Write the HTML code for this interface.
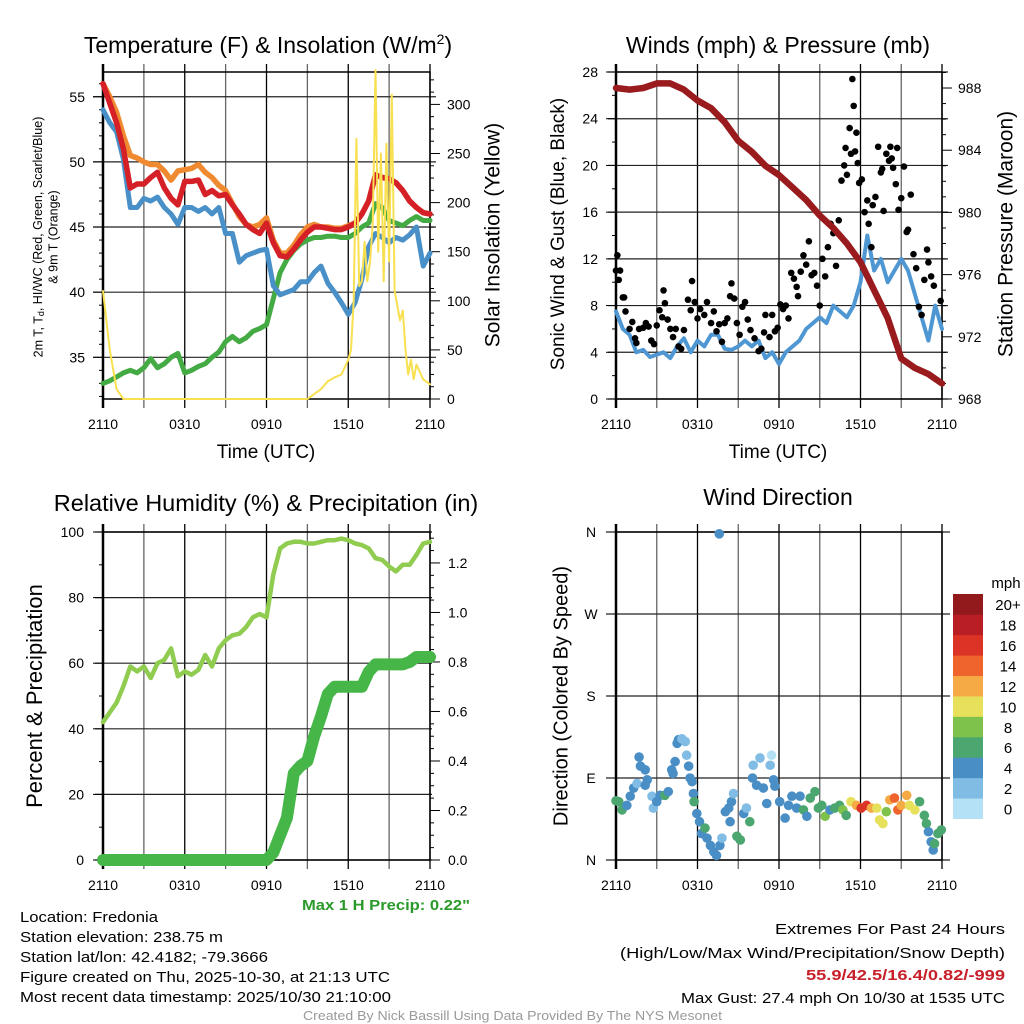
<!DOCTYPE html>
<html><head><meta charset="utf-8"><style>
body{margin:0;background:#fff;}
svg{display:block;font-family:"Liberation Sans",sans-serif;}
</style></head><body>
<svg id="c" width="1024" height="1024" viewBox="0 0 1024 1024">
<rect width="1024" height="1024" fill="#fff"/>
</svg>
<script>
// ---------- data ----------
const hours = [0,0.5,1,1.5,2,2.5,3,3.5,4,4.5,5,5.5,6,6.5,7,7.5,8,8.5,9,9.5,10,10.5,11,11.5,12,12.5,13,13.5,14,14.5,15,15.5,16,16.5,17,17.5,18,18.5,19,19.5,20,20.5,21,21.5,22,22.5,23,23.5,24];
const tempRed = [56,54.5,53,51,48,48.3,48.3,48.8,49.2,48,47.2,46.7,48.5,48.5,48.6,47.5,47.8,47.4,47.5,46.7,46,45.2,44.8,44.5,45.3,43.8,42.8,42.7,43.3,44,44.6,45,45,44.9,44.8,44.8,45,45.3,46,47,49,48.8,48.7,48.4,47.8,47,46.5,46.1,46];
const temp9m = [56,55,53.8,52,50.5,50.3,50,49.8,49.8,49.3,48.6,49.3,49.4,49.5,49.8,49.2,48.8,48.2,47.8,46.8,45.8,45.2,45,45.2,45.7,44,43,43,43.6,44.4,45,45.2,45,45,44.9,44.9,45.1,45.3,46,47,49,48.8,48.7,48.4,47.8,47,46.5,46.1,46];
const tempWC = [54,53,52.3,50.2,46.5,46.5,47.2,47,47.3,46.5,46,45.2,46.5,46.5,46.2,46.5,46,46.5,44.5,44.5,42.3,42.8,43,43.2,43.3,40.5,39.8,40,40.2,40.8,40.8,41.5,42,40.7,40,39.2,38.3,39.2,41,43.5,44.5,44.2,43.8,44.2,44,44.4,45,42,43];
const tempDew = [33,33.2,33.5,33.8,34,33.8,34.2,34.9,34.2,34.5,35,35.3,33.8,34,34.3,34.5,35,35.4,36.2,36.6,36.2,36.5,37,37.2,37.5,39.5,41.5,42.5,43.2,43.7,44,44.2,44.2,44.3,44.3,44.2,44.2,44.5,45,45.3,46.8,46.5,45.5,45.3,45.1,45.5,45.8,45.5,45.5];
const solarHours = [0,0.5,1,1.5,15,15.5,16,16.5,17,17.5,18,18.2,18.4,18.6,18.8,19,19.2,19.4,19.6,19.8,20,20.2,20.4,20.6,20.8,21,21.2,21.4,21.6,21.8,22,22.2,22.4,22.6,22.8,23,23.5,24];
const solarVals = [110,50,10,0,0,5,10,18,22,25,40,50,100,265,115,120,160,120,140,180,335,150,250,120,260,140,310,110,95,80,90,50,25,40,20,35,20,15];
const presHours = [0,1,2,3,4,5,6,7,8,9,10,11,12,13,14,15,16,17,18,19,20,21,22,23,24];
const presVals = [988.0,987.9,988.0,988.3,988.3,987.9,987.2,986.7,985.8,984.6,983.9,983.0,982.4,981.6,980.8,979.8,979.0,978.0,976.8,975.0,973.2,970.6,970.0,969.6,969.0];
const windVals = [7.5,6,5.5,4,4.2,3.6,3.8,4,3.5,4.5,5.2,4,5,4.5,5.5,5.5,4.3,4.2,4.5,5,4.5,5,3.5,4,3,4,4.5,5,6,6.5,7,6.5,8,7.5,7,8,10,14,11,12,10,11,12,11,9,7,5,8,6];
const gustHours = [0,0.1,0.2,0.3,0.5,0.6,0.7,1,1.2,1.4,1.5,1.7,2,2.2,2.4,2.6,2.8,3,3.2,3.4,3.5,3.6,3.8,4,4.2,4.4,4.6,4.8,5,5.3,5.5,5.6,5.8,6,6.2,6.5,6.7,7,7.2,7.4,7.6,7.8,8,8.2,8.4,8.5,8.7,8.9,9.1,9.3,9.5,9.7,9.9,10.2,10.5,10.7,10.9,11,11.3,11.5,11.7,11.9,12.1,12.3,12.5,12.7,12.9,13.1,13.3,13.4,13.6,13.8,14,14.2,14.4,14.6,14.8,15,15.2,15.4,15.6,15.8,16,16.2,16.4,16.6,16.8,16.9,17,17.2,17.3,17.4,17.5,17.6,17.7,17.8,17.9,18.1,18.3,18.5,18.6,18.8,18.9,19.1,19.3,19.5,19.6,19.7,19.9,20.1,20.2,20.3,20.4,20.6,20.7,20.8,21,21.2,21.4,21.5,21.7,21.9,22.1,22.3,22.5,22.7,22.9,23,23.2,23.4,23.9];
const gustVals = [11,12.3,10.2,11,8.7,8.7,7.5,6,6.6,5.2,4.8,6,6.1,6.5,6.2,5,4.7,6.3,7.6,7,9.3,8.2,6.8,6,5.3,6,4.5,4.3,5.9,8.5,7.6,10.1,8.3,6.9,7.7,7.2,8.3,6.5,7.5,5.8,6.4,4.9,6.5,6.9,8.8,9.9,8.6,6.5,5.5,7.9,8.3,6.8,5.9,5.2,4.1,4.3,5.7,7.2,5.3,7.2,5.8,6.1,8.1,7.7,8,6.9,10.8,10.3,9.6,8.8,10.9,12.3,11.5,13.5,10.6,10.8,9.7,8,12,10.5,13,15,14.2,11.4,15.3,18.7,20,21.5,19.2,23.2,21,27.4,25.1,21.2,22.8,20.2,18.5,18.8,16,17,15,13,16.6,17.3,21.6,19.4,19.7,16.1,21,20.4,21.6,20.6,19.8,18.4,21.5,16.2,17.2,19.9,14.3,14.5,17.5,12.4,11.2,7.9,7.2,10.2,12.8,11.7,10.5,9.7,8.4];
const rhVals = [42,45,48,53,59,57.5,59,55.5,60,61,64.5,56,57.5,56.5,58,62.5,59,64.5,67,68.5,69,71,74,75,74,87,95,96.5,97,97,96.5,96.5,97,97.5,97.5,98,97.5,96.5,96,95,92,91.5,89.5,88,90,90,93,96.5,97];
const precipVals = [0,0,0,0,0,0,0,0,0,0,0,0,0,0,0,0,0,0,0,0,0,0,0,0,0,0.03,0.1,0.17,0.35,0.38,0.4,0.5,0.58,0.67,0.7,0.7,0.7,0.7,0.7,0.76,0.79,0.79,0.79,0.79,0.79,0.8,0.82,0.82,0.82];
const dirHours = [0,0.2,0.45,0.8,1.05,1.3,1.55,1.7,1.8,2.15,2.3,2.15,2.65,2.75,3,3.25,3.6,3.85,4.1,4.2,4.35,4.5,4.6,4.85,5.1,5.2,5.35,5.45,5.6,5.7,5.75,5.95,6.15,6.3,6.55,6.7,6.95,7.2,7.4,7.65,7.8,7.6,8.05,8.3,8.4,8.5,8.65,8.9,9.15,9.4,9.6,9.85,10.05,10.1,10.35,10.6,10.85,11.1,11.35,11.45,11.6,11.7,12.05,12.45,12.7,12.95,13.3,13.55,13.8,14.05,14.3,14.65,14.9,15.15,15.4,15.75,16.1,16.45,16.7,16.95,17.3,17.7,18.05,18.45,18.8,19.2,19.4,19.65,19.9,20.15,20.5,20.75,21,21.4,21.6,22,22.35,22.7,22.85,23,23.2,23.35,23.45,23.7,23.95];
const dirDeg = [65,64,55,60,70,79,84,113,103,99,88,82,70,57,64,71,71,75,99,95,108,128,132,133,130,115,103,90,86,73,64,51,42,29,35,24,16,9,5,16,24,358,53,57,42,64,73,26,22,51,57,42,90,104,82,112,79,62,104,115,88,81,64,46,60,70,57,70,55,48,68,75,57,60,48,55,57,60,55,49,64,60,57,60,57,57,44,40,53,66,68,55,60,71,60,55,64,49,40,31,20,11,18,29,33];
const dirSpeed = [6,6,6,4,4,4,2,4,4,4,4,4,2,2,4,4,6,4,4,4,4,4,4,2,2,2,4,4,4,4,6,4,4,4,6,4,4,4,4,4,2,4,4,4,4,4,2,6,6,4,2,6,4,2,4,2,4,4,2,0,4,4,4,4,4,4,4,4,6,4,6,6,6,6,8,4,6,6,8,6,10,12,16,16,12,10,10,10,8,12,14,14,12,12,10,10,6,6,6,4,4,4,6,6,6];
const cbLabels = ["0","2","4","6","8","10","12","14","16","18","20+"];
const cbColors = ["#b5e1f6","#80bce4","#4a8ec6","#4ba66f","#7ec24c","#e7e05b","#f6aa45","#ef632c","#db3427","#b91e25","#921a1c"];
const tickHours = [0,3,6,9,12,15,18,21,24];
const xLabels = ["2110","","0310","","0910","","1510","","2110"];

// ---------- helpers ----------
const NS="http://www.w3.org/2000/svg";
const svg=document.getElementById('c');
function mk(tag,attrs,parent){const e=document.createElementNS(NS,tag);for(const k in attrs)e.setAttribute(k,attrs[k]);(parent||svg).appendChild(e);return e;}
function txt(s,x,y,size,anchor,parent,extra){const t=mk('text',Object.assign({x:x,y:y,'font-size':size,'text-anchor':anchor||'middle',fill:'#000'},extra||{}),parent);t.textContent=s;return t;}
function lin(d0,d1,r0,r1){return v=>r0+(v-d0)*(r1-r0)/(d1-d0);}
function grp(name){const g=mk('g',{});return g;}

function frame(P,name,hLines,ext){
  const g=grp(name+'-grid');
  tickHours.forEach((h,i)=>{
    const x=P.x(h);
    const l=mk('line',{x1:x,x2:x,y1:P.y0-8,y2:P.y1+9,stroke:(i%2==0)?'#000':'#666','stroke-width':1.3},g);
    
    if(xLabels[i]){const t=txt(xLabels[i],x,P.y1+30,14,'middle',g);}
  });
  hLines.forEach(y=>{const l=mk('line',{x1:P.x0-ext[0],x2:P.x1+ext[1],y1:y,y2:y,stroke:'#222','stroke-width':1.2},g);
    });
  mk('rect',{x:P.x0,y:P.y0,width:P.x1-P.x0,height:P.y1-P.y0,fill:'none',stroke:'#000','stroke-width':1.5},g);
  mk('line',{x1:P.x0,x2:P.x0,y1:P.y0-8,y2:P.y1+9,stroke:'#000','stroke-width':2.5},g);
  return g;
}
function poly(xs,ys,X,Y,stroke,w,name){
  let d='';xs.forEach((h,i)=>{d+=(i?'L':'M')+X(h).toFixed(1)+','+Y(ys[i]).toFixed(1);});
  const p=mk('path',{d:d,fill:'none',stroke:stroke,'stroke-width':w,'stroke-linejoin':'round','stroke-linecap':'round'});
  return p;
}
function rot(s,x,y,size,name){const t=txt(s,x,y,size,'middle',svg,{transform:'rotate(-90 '+x+' '+y+')','dominant-baseline':'middle'});return t;}
function title(s,x,y,size,name){const t=txt(s,x,y,size,'middle');return t;}

// ---------- Panel 1: Temperature ----------
{
 const P={x0:103,x1:430,y0:72,y1:399};P.x=lin(0,24,P.x0,P.x1);
 const Y=lin(31.8,56.9,P.y1,P.y0), S=lin(0,333,P.y1,P.y0);
 const tT=[35,40,45,50,55];
 frame(P,'temp-panel',tT.map(Y),[10,6]);
 const g=grp('temp-axes');
 for(let v=32;v<=56;v++){const y=Y(v);mk('line',{x1:P.x0-(v%5?4:10),x2:P.x0,y1:y,y2:y,stroke:'#000','stroke-width':1},g);}
 tT.forEach(v=>{const t=txt(v,85,Y(v)+5,14,'end',g);});
 for(let v=0;v<=325;v+=12.5){const y=S(v);mk('line',{x1:P.x1,x2:P.x1+(v%50?4:10),y1:y,y2:y,stroke:'#000','stroke-width':1},g);}
 [0,50,100,150,200,250,300].forEach(v=>{const t=txt(v,447,S(v)+5,14,'start',g);});
 poly(hours,tempDew,P.x,Y,'#44aa44',5,'dewpoint-line');
 poly(hours,tempWC,P.x,Y,'#4a90c8',5,'windchill-line');
 poly(hours,temp9m,P.x,Y,'#f08a30',5.5,'temp-9m-line');
 poly(hours,tempRed,P.x,Y,'#d42026',5.5,'temp-2m-line');
 poly(solarHours,solarVals,P.x,S,'#f8e050',2,'solar-line');
 const tt=txt('',268,53,23,'middle');
 tt.innerHTML='Temperature (F) &amp; Insolation (W/m<tspan font-size="14" dy="-9">2</tspan><tspan dy="9">)</tspan>';
 title('Time (UTC)',266,458,19,'temp-x-title');
 const r1=rot('',39,237,12.5,'temp-y-title-1');
 r1.innerHTML='2m T, T<tspan font-size="9" dy="3">d</tspan><tspan dy="-3">, HI/WC (Red, Green, Scarlet/Blue)</tspan>';
 rot('& 9m T (Orange)',54,237,12.5,'temp-y-title-2');
 rot('Solar Insolation (Yellow)',494,235,21,'solar-y-title');
}
// ---------- Panel 2: Winds ----------
{
 const P={x0:616,x1:942,y0:72,y1:399};P.x=lin(0,24,P.x0,P.x1);
 const Y=lin(0,28,P.y1,P.y0), Pr=lin(968,989.03,P.y1,P.y0);
 const tW=[0,4,8,12,16,20,24,28];
 frame(P,'wind-panel',tW.map(Y),[8,6]);
 const g=grp('wind-axes');
 for(let v=0;v<=28;v+=2){const y=Y(v);mk('line',{x1:P.x0-(v%4?4:10),x2:P.x0,y1:y,y2:y,stroke:'#000','stroke-width':1},g);}
 tW.forEach(v=>{const t=txt(v,598,Y(v)+5,14,'end',g);});
 for(let v=968;v<=989;v+=1){const y=Pr(v);mk('line',{x1:P.x1,x2:P.x1+(v%4?4:10),y1:y,y2:y,stroke:'#000','stroke-width':1},g);}
 [968,972,976,980,984,988].forEach(v=>{const t=txt(v,958,Pr(v)+5,14,'start',g);});
 poly(hours,windVals,P.x,Y,'#4f97d3',4,'sonic-wind-line');
 const gg=grp('gust-points');
 gustHours.forEach((h,i)=>{const c=mk('circle',{cx:P.x(h),cy:Y(gustVals[i]),r:3.3,fill:'#000'},gg);
   });
 poly(presHours,presVals,P.x,Pr,'#9a1b1e',6.5,'pressure-line');
 title('Winds (mph) & Pressure (mb)',778,53,23,'wind-title');
 title('Time (UTC)',778,458,19,'wind-x-title');
 rot('Sonic Wind & Gust (Blue, Black)',559,234,19,'wind-y-title');
 rot('Station Pressure (Maroon)',1007,234,21,'pressure-y-title');
}
// ---------- Panel 3: RH ----------
{
 const P={x0:103,x1:430,y0:532,y1:860};P.x=lin(0,24,P.x0,P.x1);
 const Y=lin(0,100,P.y1,P.y0), Pp=lin(0,1.325,P.y1,P.y0);
 const tR=[0,20,40,60,80,100];
 frame(P,'rh-panel',tR.map(Y),[8,2]);
 const g=grp('rh-axes');
 for(let v=0;v<=100;v+=10){const y=Y(v);mk('line',{x1:P.x0-(v%20?4:10),x2:P.x0,y1:y,y2:y,stroke:'#000','stroke-width':1},g);}
 tR.forEach(v=>{const t=txt(v,84,Y(v)+5,14,'end',g);});
 for(let k=0;k<=26;k++){const v=k*0.05;const y=Pp(v);mk('line',{x1:P.x1,x2:P.x1+(k%4?4:10),y1:y,y2:y,stroke:'#000','stroke-width':1},g);}
 ['0.0','0.2','0.4','0.6','0.8','1.0','1.2'].forEach(s=>{const t=txt(s,448,Pp(+s)+5,14,'start',g);});
 poly(hours,rhVals,P.x,Y,'#8fcc50',4.5,'rh-line');
 poly(hours,precipVals,P.x,Pp,'#46b648',12,'precip-line');
 title('Relative Humidity (%) & Precipitation (in)',266,511,23.5,'rh-title');
 rot('Percent & Precipitation',36,696,22,'rh-y-title');
}
// ---------- Panel 4: Wind direction ----------
{
 const P={x0:616,x1:942,y0:532,y1:860};P.x=lin(0,24,P.x0,P.x1);
 const Y=lin(0,360,P.y1,P.y0);
 const tD=[0,90,180,270,360], tDl=['N','E','S','W','N'];
 frame(P,'dir-panel',tD.map(Y),[10,8]);
 const g=grp('dir-axes');
 tD.forEach((v,i)=>{const t=txt(tDl[i],591,Y(v)+5,14,'middle',g);});
 const dg=grp('dir-points');
 dirHours.forEach((h,i)=>{const b=Math.min(10,Math.floor(dirSpeed[i]/2));
   const c=mk('circle',{cx:P.x(h),cy:Y(dirDeg[i]),r:4.8,fill:cbColors[b]},dg);
   });
 const cb=grp('speed-colorbar');
 const bh=(818.7-594)/11;
 cbColors.forEach((col,i)=>{const y=818.7-(i+1)*bh;
   const r=mk('rect',{x:953,y:y,width:30,height:bh+0.3,fill:col},cb);
   const t=txt(cbLabels[i],1008,y+bh/2+6,15,'middle',cb);});
 const m=txt('mph',1006,588,15,'middle',cb);
 title('Wind Direction',778,505,23,'dir-title');
 rot('Direction (Colored By Speed)',562,696,20,'dir-y-title');
}
// ---------- footer text ----------
function ft(s,x,y,len,anchor,fill,bold,name,size){
 const t=txt(s,x,y,size||15,anchor,svg,{textLength:len,lengthAdjust:'spacingAndGlyphs',fill:fill||'#000','font-weight':bold?'bold':'normal'});
 return t;}
ft('Max 1 H Precip: 0.22"',302,910,168,'start','#2a9a2a',true,'max-precip-note');
ft('Location: Fredonia',20,922,138,'start',0,0,'location-text');
ft('Station elevation: 238.75 m',20,942,203,'start',0,0,'elevation-text');
ft('Station lat/lon: 42.4182; -79.3666',20,962,248,'start',0,0,'latlon-text');
ft('Figure created on Thu, 2025-10-30, at 21:13 UTC',20,982,370,'start',0,0,'created-text');
ft('Most recent data timestamp: 2025/10/30 21:10:00',20,1002,371,'start',0,0,'timestamp-text');
ft('Extremes For Past 24 Hours',1005,934,230,'end',0,0,'extremes-title');
ft('(High/Low/Max Wind/Precipitation/Snow Depth)',1005,958,385,'end',0,0,'extremes-subtitle');
ft('55.9/42.5/16.4/0.82/-999',1005,980,199,'end','#c8202a',true,'extremes-values');
ft('Max Gust: 27.4 mph On 10/30 at 1535 UTC',1005,1003,324,'end',0,0,'max-gust-text');
ft('Created By Nick Bassill Using Data Provided By The NYS Mesonet',303,1020,419,'start','#999',false,'credit-text',13);
</script>
</body></html>
